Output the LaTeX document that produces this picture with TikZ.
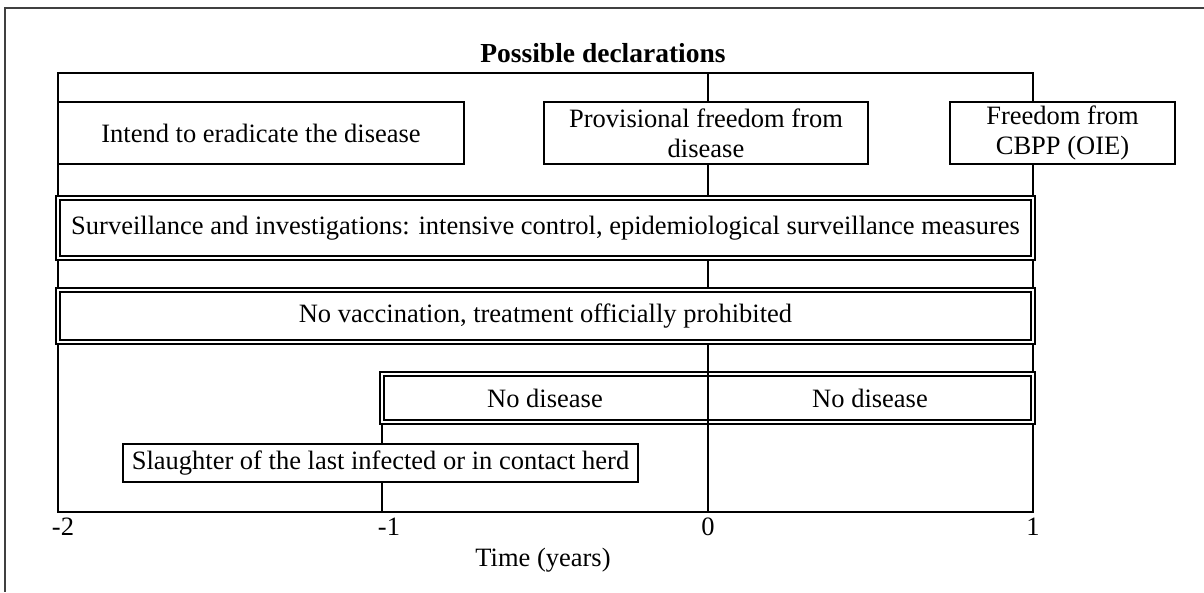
\documentclass[tikz,border=0pt]{standalone}
\usepackage{fontspec}
\setmainfont{Liberation Serif}
\begin{document}
\begin{tikzpicture}[x=1pt,y=-1pt,
  every node/.style={font=\fontsize{26.5}{30}\selectfont, inner sep=0pt},
  ln/.style={line width=1.2pt},
  box/.style={draw, fill=white, line width=1.2pt, align=center},
  dbox/.style={box, double, double distance=2.8pt}]
\useasboundingbox (0,0) rectangle (1204,592);
% outer (clipped) frame
\coordinate (otr) at (1204,8);
\coordinate (otl) at (5,8);
\coordinate (obl) at (5,592);
\draw[line width=1.6pt, black!75] (otr) -- (otl) -- (obl);
% inner frame
\coordinate (ftl) at (58,73);
\coordinate (fbr) at (1033,512);
\draw[ln] (ftl) rectangle (fbr);
% vertical time lines
\coordinate (z0t) at (708,73);
\coordinate (z0b) at (708,512);
\coordinate (m1t) at (382,420);
\coordinate (m1b) at (382,512);
\draw[ln] (z0t) -- (z0b);
\draw[ln] (m1t) -- (m1b);
% title
\node[font=\fontsize{27.5}{30}\selectfont\bfseries] (title) at (603,53) {Possible declarations};
% declaration boxes
\node[box, minimum width=406pt, minimum height=62pt] (intend) at (261,133) {Intend to eradicate the disease};
\node[box, minimum width=324pt, minimum height=62pt] (prov) at (706,133) {Provisional freedom from\\disease};
\node[box, minimum width=225pt, minimum height=62pt] (free) at (1062.5,133) {Freedom from\\CBPP (OIE)};
% measure boxes
\node[dbox, minimum width=975pt, minimum height=60pt] (surv) at (545.5,228) {Surveillance and investigations: intensive control, epidemiological surveillance measures};
\node[dbox, minimum width=975pt, minimum height=52pt] (vacc) at (545.5,316) {No vaccination, treatment officially prohibited};
\node[dbox, minimum width=651pt, minimum height=48pt] (nodis) at (707.5,398) {};
\draw[ln] (nodis.north -| z0t) -- (nodis.south -| z0t);
\node (nd1) at (545,398) {No disease};
\node (nd2) at (870,398) {No disease};
\node[box, minimum width=515pt, minimum height=38pt] (slaugh) at (380.5,463) {Slaughter of the last infected or in contact herd};
% axis labels
\node (tm2) at (63,527) {-2};
\node (tm1) at (389,527) {-1};
\node (t0) at (708,527) {0};
\node (t1) at (1033,527) {1};
\node (xlab) at (543,560) {Time (years)};
\end{tikzpicture}
\end{document}
